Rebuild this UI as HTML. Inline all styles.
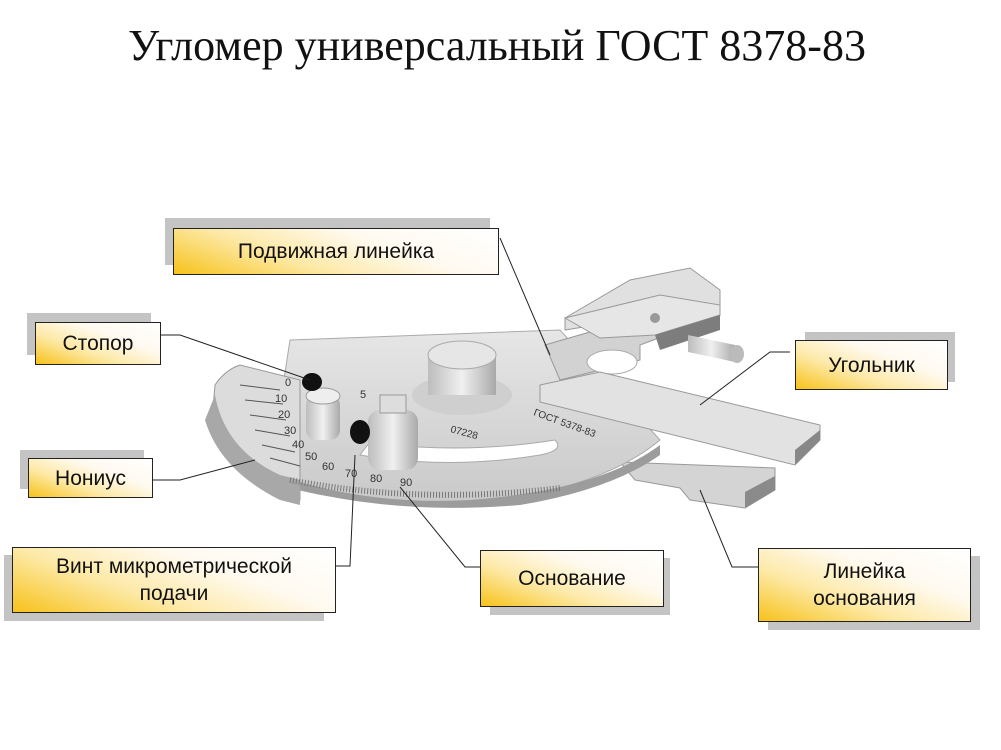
<!DOCTYPE html>
<html><head><meta charset="utf-8"><style>
body{margin:0;width:1001px;height:750px;background:#fff;overflow:hidden;position:relative;font-family:"Liberation Sans",sans-serif}
.t{position:absolute;left:0;width:994px;top:20px;text-align:center;font-family:"Liberation Serif",serif;font-size:44px;color:#111}
.sh{position:absolute;background:#c4c4c4}
.b{position:absolute;border:1.5px solid #222;background:linear-gradient(20deg,#f7c21a 0%,#fde9a6 35%,#fffaf0 65%,#fff 100%);display:flex;align-items:center;justify-content:center;text-align:center;font-size:21px;color:#111;line-height:27px;box-sizing:border-box}
</style></head><body>
<div class="t">Угломер универсальный ГОСТ 8378-83</div>
<svg width="1001" height="750" style="position:absolute;left:0;top:0">
<defs>
<linearGradient id="g1" x1="0" y1="0" x2="0" y2="1"><stop offset="0" stop-color="#e6e6e6"/><stop offset="1" stop-color="#c9c9c9"/></linearGradient>
<linearGradient id="g2" x1="0" y1="0" x2="1" y2="0"><stop offset="0" stop-color="#bdbdbd"/><stop offset=".5" stop-color="#f0f0f0"/><stop offset="1" stop-color="#a9a9a9"/></linearGradient>
</defs>
<polygon points="620,462 775,468 775,490 745,508 690,500 680,488 635,480" fill="#d4d4d4" stroke="#999"/>
<polygon points="745,492 775,476 775,490 745,508" fill="#8a8a8a"/>
<path d="M290,340 L560,330 L660,440 Q600,490 470,505 Q360,505 300,490 L270,470 Z" fill="url(#g1)" stroke="#aaa"/>
<path d="M300,490 Q400,515 520,505 Q610,490 660,455 L660,445 Q600,490 470,500 Q380,505 300,482 Z" fill="#9c9c9c"/>
<path d="M360,455 Q450,470 540,455 Q565,450 555,440 Q460,455 370,442 Z" fill="#fff" stroke="#aaa"/>
<path d="M215,385 Q225,370 240,365 L300,380 L300,470 L300,500 L285,500 Q230,470 212,420 Z" fill="#dcdcdc" stroke="#999"/>
<path d="M205,420 Q220,470 280,500 L300,505 L300,480 L280,475 Q225,450 215,395 Z" fill="#a8a8a8"/>
<g stroke="#555" stroke-width="1">
<path d="M240,385 L280,390 M245,400 L283,404 M250,415 L286,420 M255,430 L290,436 M262,445 L295,452 M270,458 L300,466" />
</g>
<path d="M290,480 Q420,505 560,488" fill="none" stroke="#777" stroke-width="6" stroke-dasharray="1 2"/>
<g font-size="11" fill="#333" font-family="Liberation Sans">
<text x="285" y="386">0</text><text x="275" y="402">10</text><text x="278" y="418">20</text><text x="284" y="434">30</text><text x="292" y="448">40</text><text x="305" y="460">50</text><text x="322" y="470">60</text><text x="345" y="477">70</text><text x="370" y="482">80</text><text x="400" y="486">90</text>
<text x="360" y="398">5</text>
<text x="533" y="415" transform="rotate(20 533 415)" font-size="10">ГОСТ 5378-83</text>
<text x="450" y="432" transform="rotate(15 450 432)" font-size="10">07228</text>
</g>
<ellipse cx="462" cy="395" rx="50" ry="20" fill="#cfcfcf"/>
<rect x="428" y="355" width="68" height="40" fill="url(#g2)"/>
<ellipse cx="462" cy="355" rx="34" ry="14" fill="#e6e6e6" stroke="#aaa"/>
<polygon points="545,345 700,300 720,315 640,345 640,360 560,380" fill="#d2d2d2" stroke="#999"/>
<polygon points="630,280 690,268 720,290 720,305 565,330 565,318" fill="#e0e0e0" stroke="#999"/>
<polygon points="565,318 660,295 720,305 720,315 655,335 600,338" fill="#e6e6e6" stroke="#999"/>
<polygon points="655,335 720,315 720,330 660,350" fill="#7d7d7d"/>
<circle cx="655" cy="318" r="5" fill="#999"/>
<ellipse cx="612" cy="362" rx="25" ry="12" fill="#fff" stroke="#aaa"/>
<polygon points="688,335 735,345 735,362 688,352" fill="url(#g2)"/>
<ellipse cx="737" cy="354" rx="7" ry="9" fill="#bbb"/>
<polygon points="540,385 600,372 820,425 820,440 795,465 540,402" fill="#e2e2e2" stroke="#999"/>
<polygon points="795,450 820,430 820,440 795,465" fill="#888"/>
<rect x="306" y="395" width="34" height="45" rx="10" fill="url(#g2)"/>
<ellipse cx="323" cy="396" rx="17" ry="8" fill="#eee" stroke="#999"/>
<ellipse cx="312" cy="382" rx="10" ry="9" fill="#111"/>
<rect x="368" y="410" width="50" height="60" rx="12" fill="url(#g2)"/>
<rect x="380" y="395" width="26" height="18" fill="#ddd" stroke="#999"/>
<ellipse cx="360" cy="432" rx="10" ry="12" fill="#111"/>
<g fill="none" stroke="#222" stroke-width="1">
<path d="M500,238 L550,355"/>
<path d="M160,335 L180,335 L310,380"/>
<path d="M790,352 L770,352 L700,405"/>
<path d="M153,480 L180,480 L255,460"/>
<path d="M335,566 L350,566 L355,455"/>
<path d="M480,567 L465,567 L400,487"/>
<path d="M758,567 L732,567 L700,490"/>
</g>
</svg>
<div class="sh" style="left:165px;top:218px;width:325px;height:47px"></div>
<div class="b" style="left:173px;top:228px;width:326px;height:47px">Подвижная линейка</div>
<div class="sh" style="left:27px;top:313px;width:124px;height:42px"></div>
<div class="b" style="left:35px;top:322px;width:126px;height:43px">Стопор</div>
<div class="sh" style="left:805px;top:332px;width:150px;height:50px"></div>
<div class="b" style="left:795px;top:340px;width:153px;height:50px">Угольник</div>
<div class="sh" style="left:20px;top:450px;width:124px;height:39px"></div>
<div class="b" style="left:28px;top:458px;width:125px;height:40px">Нониус</div>
<div class="sh" style="left:4px;top:555px;width:320px;height:66px"></div>
<div class="b" style="left:12px;top:547px;width:324px;height:66px">Винт микрометрической<br>подачи</div>
<div class="sh" style="left:490px;top:558px;width:180px;height:57px"></div>
<div class="b" style="left:480px;top:550px;width:184px;height:57px">Основание</div>
<div class="sh" style="left:768px;top:556px;width:212px;height:74px"></div>
<div class="b" style="left:758px;top:548px;width:213px;height:74px">Линейка<br>основания</div>
</body></html>
